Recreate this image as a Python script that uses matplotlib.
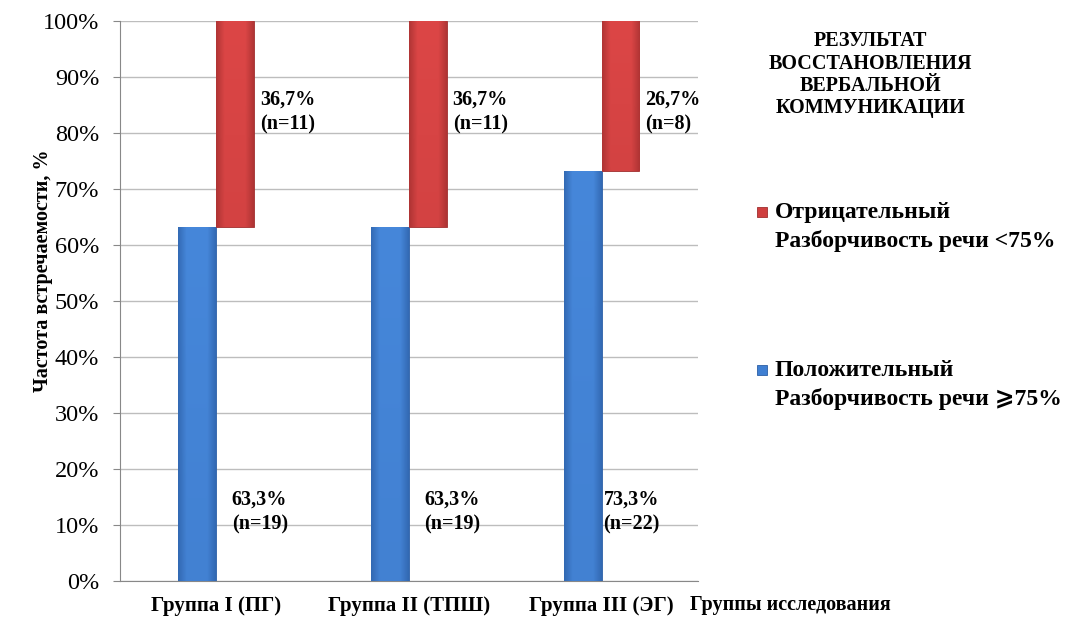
import numpy as np
import matplotlib
matplotlib.use("Agg")
import matplotlib.pyplot as plt
from matplotlib.patches import Rectangle

plt.rcParams["font.family"] = ["Liberation Serif", "DejaVu Serif", "DejaVu Sans"]

groups = ["Группа I (ПГ)", "Группа II (ТПШ)", "Группа III (ЭГ)"]
positive = [63.3, 63.3, 73.3]
negative = [36.7, 36.7, 26.7]
n_positive = [19, 19, 22]
n_negative = [11, 11, 8]

BLUE = "#3f7fd2"
BLUE_DARK = "#2c5fa6"
RED = "#cf3f3f"
RED_DARK = "#a02e2e"


def shade_bar(ax, bar, light, dark):
    # soft bevel: lighter middle, darker sides and bottom, clipped to the bar
    x0, y0 = bar.get_x(), bar.get_y()
    w, h = bar.get_width(), bar.get_height()
    tx = np.linspace(0, 1, 64)
    ty = np.linspace(0, 1, 64)
    px = 1 - np.clip(np.abs(tx - 0.5) * 2 - 0.55, 0, 1) * 1.6
    py = 0.85 + 0.15 * ty
    prof = np.clip(py[:, None] * px[None, :], 0, 1)
    c_light = np.array(matplotlib.colors.to_rgb(light))
    c_dark = np.array(matplotlib.colors.to_rgb(dark))
    img = c_dark + (c_light - c_dark) * prof[:, :, None]
    im = ax.imshow(img, extent=(x0, x0 + w, y0, y0 + h), aspect="auto",
                   origin="lower", zorder=3, interpolation="bilinear")
    im.set_clip_path(bar)


fig, ax = plt.subplots(figsize=(10.67, 6.17), dpi=100)
fig.subplots_adjust(left=0.1125, right=0.654, top=0.966, bottom=0.058)

x = np.arange(len(groups))
w = 0.197
blue_bars = ax.bar(x - w / 2, positive, width=w, color=BLUE, edgecolor=BLUE_DARK,
                   linewidth=0.6, zorder=2)
red_bars = ax.bar(x + w / 2, negative, width=w, bottom=positive, color=RED,
                  edgecolor=RED_DARK, linewidth=0.6, zorder=2)
for b in blue_bars:
    shade_bar(ax, b, "#4687da", BLUE_DARK)
for b in red_bars:
    shade_bar(ax, b, "#dc4646", RED_DARK)

label_kw = dict(fontsize=14.5, fontweight="bold", va="center", ha="left",
                linespacing=1.3, zorder=5)
blue_dx = [0.08, 0.08, 0.01]
for i in range(len(groups)):
    ax.text(x[i] + blue_dx[i], 12.4,
            f"{positive[i]:.1f}%\n(n={n_positive[i]})".replace(".", ","), **label_kw)
    ax.text(x[i] + w + 0.03, 83.8,
            f"{negative[i]:.1f}%\n(n={n_negative[i]})".replace(".", ","), **label_kw)

ax.set_xlim(-0.5, 2.5)
ax.set_ylim(0, 100)
ax.set_yticks(np.arange(0, 101, 10))
ax.set_yticklabels([f"{v}%" for v in range(0, 101, 10)], fontsize=17.5)
ax.set_xticks(x)
ax.set_xticklabels(groups, fontsize=15, fontweight="bold")
ax.tick_params(axis="y", length=5, color="#888888", pad=10)
ax.tick_params(axis="x", length=0, pad=11)
ax.yaxis.grid(True, color="#bdbdbd", linewidth=1)
ax.set_axisbelow(True)
for side in ("top", "right"):
    ax.spines[side].set_visible(False)
for side in ("left", "bottom"):
    ax.spines[side].set_color("#888888")

ax.set_ylabel("Частота встречаемости, %", fontsize=14.5, fontweight="bold")
ax.yaxis.set_label_coords(-0.116, 0.554)

fig.text(0.647, 0.02, "Группы исследования", fontsize=14.5, fontweight="bold",
         ha="left", va="center")

fig.text(0.816, 0.949, "РЕЗУЛЬТАТ\nВОССТАНОВЛЕНИЯ\nВЕРБАЛЬНОЙ\nКОММУНИКАЦИИ",
         fontsize=14.5, fontweight="bold", ha="center", va="top", linespacing=1.15)

# legend drawn by hand so the key sits next to the first line of each entry
legend_items = [
    (RED, RED_DARK, "Отрицательный\nРазборчивость речи <75%", 0.673),
    (BLUE, BLUE_DARK, "Положительный\nРазборчивость речи ⩾75%", 0.417),
]
for face, edge, text, ytop in legend_items:
    fig.add_artist(Rectangle((0.7095, ytop - 0.0255), 0.0095, 0.0165,
                             transform=fig.transFigure, facecolor=face,
                             edgecolor=edge, linewidth=0.6))
    fig.text(0.726, ytop, text, fontsize=17, fontweight="bold", ha="left",
             va="top", linespacing=1.45)

fig.savefig("out.png", dpi=100)
